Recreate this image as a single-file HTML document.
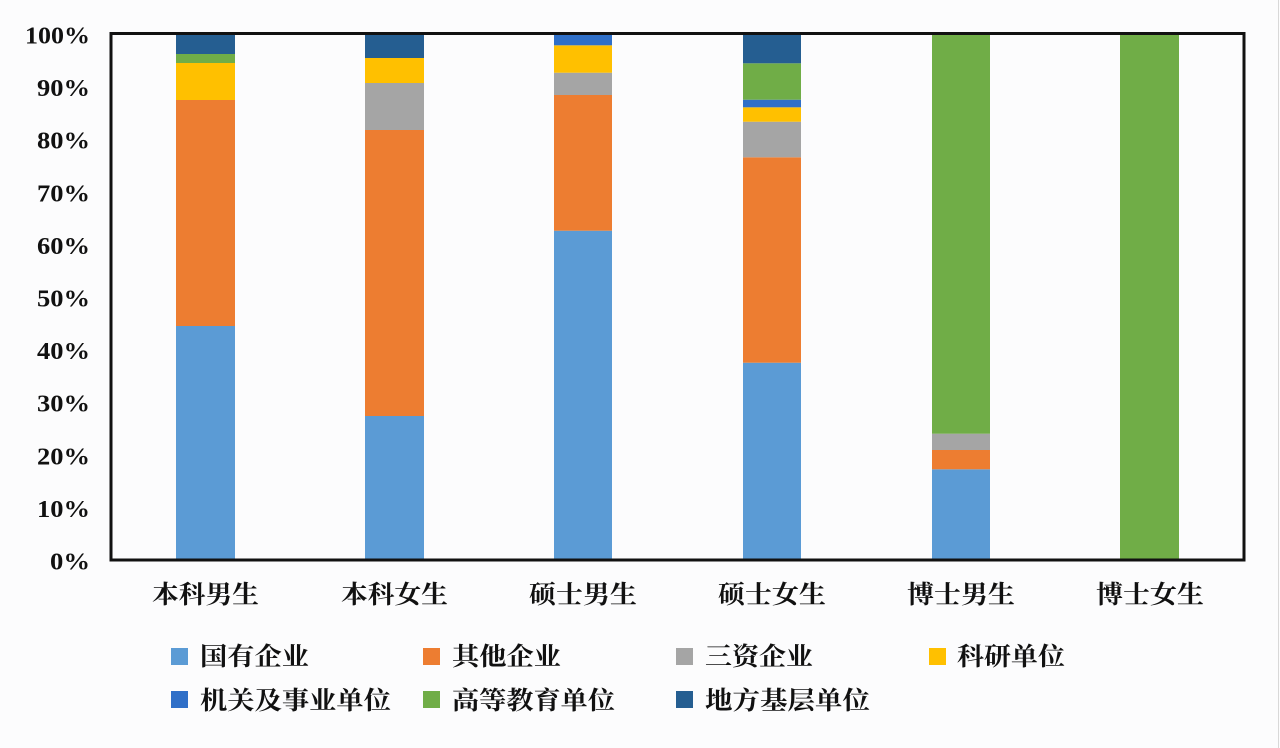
<!DOCTYPE html>
<html>
<head>
<meta charset="utf-8">
<style>
html,body{margin:0;padding:0;background:#fcfcfd;}
svg{display:block;}
</style>
</head>
<body>
<svg width="1280" height="748" viewBox="0 0 1280 748" xmlns="http://www.w3.org/2000/svg">
<rect x="0" y="0" width="1280" height="748" fill="#fcfcfd"/>
<line x1="1278.5" y1="0" x2="1278.5" y2="748" stroke="#d8d8d8" stroke-width="1"/>

<!-- Bar 1 本科男生 -->
<rect x="176" y="326" width="59" height="234" fill="#5B9BD5"/>
<rect x="176" y="100" width="59" height="226" fill="#ED7D31"/>
<rect x="176" y="63" width="59" height="37" fill="#FFC000"/>
<rect x="176" y="54" width="59" height="9" fill="#70AD47"/>
<rect x="176" y="34" width="59" height="20" fill="#255E91"/>

<!-- Bar 2 本科女生 -->
<rect x="365" y="416" width="59" height="144" fill="#5B9BD5"/>
<rect x="365" y="130" width="59" height="286" fill="#ED7D31"/>
<rect x="365" y="83" width="59" height="47" fill="#A5A5A5"/>
<rect x="365" y="58" width="59" height="25" fill="#FFC000"/>
<rect x="365" y="34" width="59" height="24" fill="#255E91"/>

<!-- Bar 3 硕士男生 -->
<rect x="554" y="230.7" width="58" height="329.3" fill="#5B9BD5"/>
<rect x="554" y="95" width="58" height="135.7" fill="#ED7D31"/>
<rect x="554" y="72.7" width="58" height="22.3" fill="#A5A5A5"/>
<rect x="554" y="45.3" width="58" height="27.4" fill="#FFC000"/>
<rect x="554" y="34" width="58" height="11.3" fill="#2F6FC8"/>

<!-- Bar 4 硕士女生 -->
<rect x="743" y="362.7" width="58" height="197.3" fill="#5B9BD5"/>
<rect x="743" y="157.3" width="58" height="205.4" fill="#ED7D31"/>
<rect x="743" y="121.7" width="58" height="35.6" fill="#A5A5A5"/>
<rect x="743" y="107.3" width="58" height="14.4" fill="#FFC000"/>
<rect x="743" y="99.7" width="58" height="7.6" fill="#2F6FC8"/>
<rect x="743" y="63.3" width="58" height="36.4" fill="#70AD47"/>
<rect x="743" y="34" width="58" height="29.3" fill="#255E91"/>

<!-- Bar 5 博士男生 -->
<rect x="932" y="469.3" width="58" height="90.7" fill="#5B9BD5"/>
<rect x="932" y="450" width="58" height="19.3" fill="#ED7D31"/>
<rect x="932" y="433.7" width="58" height="16.3" fill="#A5A5A5"/>
<rect x="932" y="34" width="58" height="399.7" fill="#70AD47"/>

<!-- Bar 6 博士女生 -->
<rect x="1120" y="34" width="59" height="526" fill="#70AD47"/>

<!-- frame -->
<rect x="111" y="33.5" width="1133" height="526.5" fill="none" stroke="#111" stroke-width="3"/>

<!-- Y labels -->
<g font-family="'Liberation Serif', serif" font-weight="bold" font-size="24" fill="#111" text-anchor="end">
<text x="90" y="43.5" textLength="65" lengthAdjust="spacingAndGlyphs">100%</text>
<text x="90" y="96.1" textLength="53" lengthAdjust="spacingAndGlyphs">90%</text>
<text x="90" y="148.7" textLength="53" lengthAdjust="spacingAndGlyphs">80%</text>
<text x="90" y="201.3" textLength="53" lengthAdjust="spacingAndGlyphs">70%</text>
<text x="90" y="253.9" textLength="53" lengthAdjust="spacingAndGlyphs">60%</text>
<text x="90" y="306.5" textLength="53" lengthAdjust="spacingAndGlyphs">50%</text>
<text x="90" y="359.1" textLength="53" lengthAdjust="spacingAndGlyphs">40%</text>
<text x="90" y="411.7" textLength="53" lengthAdjust="spacingAndGlyphs">30%</text>
<text x="90" y="464.3" textLength="53" lengthAdjust="spacingAndGlyphs">20%</text>
<text x="90" y="516.9" textLength="53" lengthAdjust="spacingAndGlyphs">10%</text>
<text x="90" y="569.5" textLength="40" lengthAdjust="spacingAndGlyphs">0%</text>
</g>

<!-- X labels -->
<g font-family="'Liberation Serif', 'Noto Serif CJK SC', serif" font-weight="bold" font-size="25" fill="#111">
<text x="152" y="603" textLength="107" lengthAdjust="spacingAndGlyphs">本科男生</text>
<text x="341" y="603" textLength="107" lengthAdjust="spacingAndGlyphs">本科女生</text>
<text x="529" y="603" textLength="108" lengthAdjust="spacingAndGlyphs">硕士男生</text>
<text x="718" y="603" textLength="108" lengthAdjust="spacingAndGlyphs">硕士女生</text>
<text x="907" y="603" textLength="108" lengthAdjust="spacingAndGlyphs">博士男生</text>
<text x="1096" y="603" textLength="108" lengthAdjust="spacingAndGlyphs">博士女生</text>
</g>

<!-- Legend -->
<rect x="171" y="648" width="17" height="17" fill="#5B9BD5"/>
<rect x="423" y="648" width="17" height="17" fill="#ED7D31"/>
<rect x="676" y="648" width="17" height="17" fill="#A5A5A5"/>
<rect x="929" y="648" width="17" height="17" fill="#FFC000"/>
<rect x="171" y="691" width="17" height="17" fill="#2F6FC8"/>
<rect x="423" y="691" width="17" height="17" fill="#70AD47"/>
<rect x="676" y="691" width="17" height="17" fill="#255E91"/>
<g font-family="'Liberation Serif', 'Noto Serif CJK SC', serif" font-weight="bold" font-size="25" fill="#111">
<text x="200" y="665" textLength="109" lengthAdjust="spacingAndGlyphs">国有企业</text>
<text x="452" y="665" textLength="109" lengthAdjust="spacingAndGlyphs">其他企业</text>
<text x="705" y="665" textLength="108" lengthAdjust="spacingAndGlyphs">三资企业</text>
<text x="957" y="665" textLength="108" lengthAdjust="spacingAndGlyphs">科研单位</text>
<text x="200" y="709" textLength="191" lengthAdjust="spacingAndGlyphs">机关及事业单位</text>
<text x="452" y="709" textLength="163" lengthAdjust="spacingAndGlyphs">高等教育单位</text>
<text x="705" y="709" textLength="165" lengthAdjust="spacingAndGlyphs">地方基层单位</text>
</g>
</svg>
</body>
</html>
